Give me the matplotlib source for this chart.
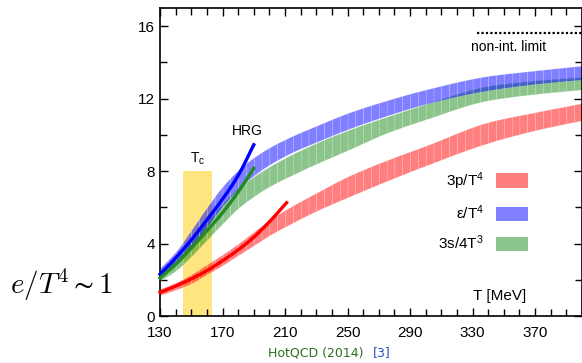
import matplotlib
matplotlib.use("Agg")
import matplotlib.pyplot as plt
from matplotlib.patches import Patch
import numpy as np

plt.rcParams['font.family'] = ['Liberation Sans', 'DejaVu Sans']
plt.rcParams['mathtext.fontset'] = 'custom'
plt.rcParams['mathtext.rm'] = 'Liberation Sans'
plt.rcParams['mathtext.it'] = 'Liberation Sans:italic'
plt.rcParams['mathtext.default'] = 'regular'

# lattice bands (lower / upper edge) vs temperature in MeV
T_band = [130, 140, 150, 160, 170, 180, 190, 200, 215, 230, 250, 275, 300, 340, 370, 400]
eps_lo = [2.1, 2.85, 3.75, 4.9, 6.05, 7.0, 7.75, 8.35, 9.05, 9.6, 10.3, 11.05, 11.7, 12.45, 12.8, 13.05]
eps_hi = [2.65, 3.55, 4.75, 6.0, 7.15, 8.05, 8.75, 9.3, 9.95, 10.5, 11.2, 11.9, 12.5, 13.25, 13.55, 13.82]
ent_lo = [1.95, 2.5, 3.3, 4.2, 5.1, 5.95, 6.6, 7.15, 7.8, 8.4, 9.15, 10.1, 10.85, 11.9, 12.25, 12.5]
ent_hi = [2.4, 3.1, 4.1, 5.2, 6.2, 7.05, 7.7, 8.25, 8.95, 9.55, 10.25, 11.0, 11.7, 12.7, 13.0, 13.2]
prs_lo = [1.15, 1.45, 1.8, 2.3, 2.8, 3.35, 3.9, 4.45, 5.15, 5.8, 6.55, 7.45, 8.3, 9.55, 10.25, 10.8]
prs_hi = [1.5, 1.85, 2.3, 2.85, 3.4, 4.0, 4.65, 5.3, 6.1, 6.8, 7.7, 8.6, 9.4, 10.7, 11.25, 11.75]

# hadron resonance gas curves
T_hrg = [130, 140, 150, 160, 170, 180, 190]
eps_hrg = [2.3, 3.2, 4.2, 5.3, 6.45, 7.75, 9.45]
ent_hrg = [2.1, 2.85, 3.75, 4.7, 5.7, 6.85, 8.15]
T_hrg_p = [130, 140, 150, 160, 170, 180, 190, 200, 211]
prs_hrg = [1.3, 1.65, 2.05, 2.5, 3.05, 3.65, 4.35, 5.2, 6.25]

Tc_range = [145, 163]
Tc_height = 8
sb_limit = 15.63
sb_T = [333, 400]


def pchip(x, y, xn):
    # monotone cubic interpolation (Fritsch-Carlson)
    x = np.asarray(x, float)
    y = np.asarray(y, float)
    h = np.diff(x)
    d = np.diff(y) / h
    m = np.zeros_like(y)
    for k in range(1, len(x) - 1):
        if d[k - 1] * d[k] > 0:
            w1 = 2 * h[k] + h[k - 1]
            w2 = h[k] + 2 * h[k - 1]
            m[k] = (w1 + w2) / (w1 / d[k - 1] + w2 / d[k])
    m[0] = d[0]
    m[-1] = d[-1]
    i = np.clip(np.searchsorted(x, xn) - 1, 0, len(x) - 2)
    t = (xn - x[i]) / h[i]
    h00 = 2 * t**3 - 3 * t**2 + 1
    h10 = t**3 - 2 * t**2 + t
    h01 = -2 * t**3 + 3 * t**2
    h11 = t**3 - t**2
    return h00 * y[i] + h10 * h[i] * m[i] + h01 * y[i + 1] + h11 * h[i] * m[i + 1]


fig = plt.figure(figsize=(5.82, 3.63), dpi=100)
ax = fig.add_axes([160 / 582, 47 / 363, 422 / 582, 308 / 363])

# Tc band
ax.fill_between(Tc_range, 0, Tc_height, color='#ffe57f', lw=0, zorder=1)
ax.text(np.mean(Tc_range), Tc_height + 0.2, r'T$_c$', ha='center', va='bottom', fontsize=10)


def striped_band(lo, hi, color, alpha):
    # draw band in 5 MeV slices to get the striped look
    edges = np.arange(T_band[0], T_band[-1] + 0.1, 5)
    for a, b in zip(edges[:-1], edges[1:]):
        t = np.linspace(a, b, 8)
        ax.fill_between(t, pchip(T_band, lo, t), pchip(T_band, hi, t),
                        facecolor=color, edgecolor='white', lw=0.25, alpha=alpha, zorder=2)


striped_band(prs_lo, prs_hi, '#ff0000', 0.5)
striped_band(ent_lo, ent_hi, '#008000', 0.45)
striped_band(eps_lo, eps_hi, '#0000ff', 0.5)

# HRG lines
tt = np.linspace(T_hrg[0], T_hrg[-1], 100)
ttp = np.linspace(T_hrg_p[0], T_hrg_p[-1], 100)
ax.plot(ttp, pchip(T_hrg_p, prs_hrg, ttp), color='#ff0000', lw=2.4, zorder=3, clip_on=False)
ax.plot(tt, pchip(T_hrg, eps_hrg, tt), color='#0000ff', lw=2.4, zorder=3, clip_on=False)
ax.plot(tt, pchip(T_hrg, ent_hrg, tt), color='#228b22', lw=2.4, zorder=3, clip_on=False)
ax.text(186, 9.8, 'HRG', ha='center', va='bottom', fontsize=10)

# non-interacting limit
ax.plot(sb_T, [sb_limit, sb_limit], color='black', ls=(0, (1, 1)), lw=1.6)
ax.text(353, 15.25, 'non-int. limit', ha='center', va='top', fontsize=10)

ax.text(347, 0.7, 'T [MeV]', ha='center', va='bottom', fontsize=11)

handles = [Patch(facecolor='#ff0000', alpha=0.5, lw=0),
           Patch(facecolor='#0000ff', alpha=0.5, lw=0),
           Patch(facecolor='#008000', alpha=0.45, lw=0)]
labels = ['3p/T$^4$', 'ε/T$^4$', '3s/4T$^3$']
ax.legend(handles, labels, loc='center right', bbox_to_anchor=(0.905, 0.34),
          frameon=False, markerfirst=False, fontsize=11, handlelength=2.1,
          handleheight=1.1, labelspacing=0.75, handletextpad=0.8)

ax.set_xlim(130, 400)
ax.set_ylim(0, 17)
ax.set_xticks(np.arange(130, 401, 40))
ax.set_xticks(np.arange(130, 401, 10), minor=True)
ax.set_yticks(np.arange(0, 17, 4))
ax.set_yticks(np.arange(0, 17, 2), minor=True)
ax.tick_params(which='both', direction='in', top=True, right=True, labelsize=11, width=1)
ax.tick_params(which='major', length=6)
ax.tick_params(which='minor', length=5)
ax.tick_params(axis='x', pad=7)
for s in ax.spines.values():
    s.set_linewidth(1.2)

fig.text(10 / 582, 0.215, r'$\mathit{e}\mathrm{/}\mathit{T}^{\mathrm{4}} \sim \mathrm{1}$', fontsize=21,
         va='center', ha='left', math_fontfamily='cm')
fig.text(268 / 582, 10 / 363, 'HotQCD (2014)', color='#2d6e1e', fontsize=9, va='center', ha='left',
         family='DejaVu Sans')
fig.text(373 / 582, 10 / 363, '[3]', color='#2f4fbf', fontsize=9, va='center', ha='left',
         family='DejaVu Sans')

fig.savefig('out.png', dpi=100)
